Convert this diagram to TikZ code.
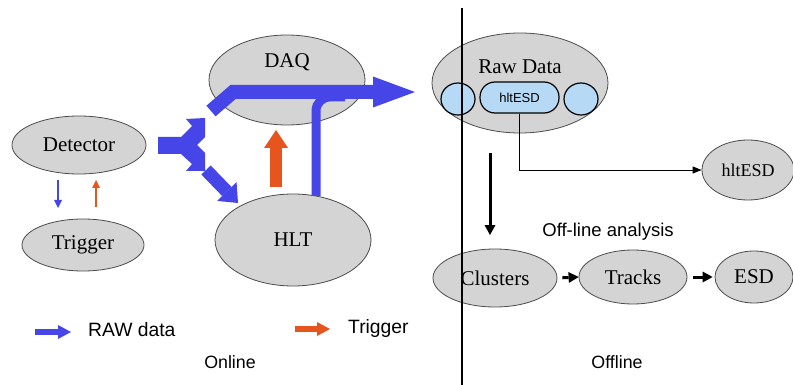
\documentclass[tikz,border=0pt]{standalone}
\usepackage{fontspec}
\setmainfont{Liberation Serif}
\setsansfont{Liberation Sans}
\usetikzlibrary{arrows.meta,shapes.geometric}
\definecolor{blu}{RGB}{70,70,232}
\definecolor{org}{RGB}{232,84,30}
\definecolor{ell}{RGB}{212,212,212}
\definecolor{lblue}{RGB}{182,218,246}
\begin{document}
\begin{tikzpicture}[x=1pt,y=-1pt,
  oval/.style={ellipse,draw=black!70,line width=0.8pt,fill=ell,inner sep=0pt,font=\fontsize{21}{21}\selectfont},
  sub/.style={ellipse,draw=black,line width=1.2pt,fill=lblue,inner sep=0pt},
  lbl/.style={inner sep=0pt,font=\fontsize{21}{21}\selectfont},
  sans/.style={inner sep=0pt,font=\sffamily\fontsize{18.5}{18.5}\selectfont},
  thinarrow/.style={draw=black,line width=0.9pt,-{Triangle[length=9pt,width=7pt]}},
  blackarrow/.style={draw=black,line width=3pt,-{Triangle[length=10pt,width=11pt,line width=0pt]}},
  bigblue/.style={draw=blu,line width=14pt,line join=miter},
]
\useasboundingbox (0,0) rectangle (793,385);
\fill[white] (0,0) rectangle (793,385);

% online ellipses
\node[oval,minimum width=134pt,minimum height=58pt] (det) at (79,145) {Detector};
\node[oval,minimum width=122pt,minimum height=52pt] (trg) at (83,245) {Trigger};
\node[oval,minimum width=156pt,minimum height=90pt] (daq) at (287,80) {};
\node[lbl] (daqt) at (287,62) {DAQ};
\node[oval,minimum width=156pt,minimum height=92pt] (hlt) at (293,240) {HLT};

% offline ellipses
\node[oval,minimum width=176pt,minimum height=100pt] (raw) at (520,83) {};
\node[lbl] (rawt) at (520,67) {Raw Data};
\node[sub,minimum width=34pt,minimum height=32pt] (cl) at (458,99) {};
\node[sub,minimum width=34pt,minimum height=32pt] (cr) at (581,99) {};
\node[draw=black,line width=1.2pt,fill=lblue,rectangle,rounded corners=15pt,
      minimum width=79pt,minimum height=31pt,inner sep=0pt,
      font=\sffamily\fontsize{13}{13}\selectfont] (hin) at (519.5,97.5) {hltESD};
\node[oval,minimum width=92pt,minimum height=60pt,font=\fontsize{18}{18}\selectfont] (hout) at (748,170) {hltESD};
\node[oval,minimum width=124pt,minimum height=58pt] (clu) at (495,278) {Clusters};
\node[oval,minimum width=108pt,minimum height=54pt] (tra) at (633,277) {Tracks};
\node[oval,minimum width=78pt,minimum height=52pt] (esd) at (754,277) {ESD};

% divider
\coordinate (vtop) at (462,8);
\coordinate (vbot) at (462,385);
\draw[line width=1.5pt] (vtop) -- (vbot);

% offline connectors
\draw[thinarrow] (hin.south) |- (hout.west);
\coordinate (dtop) at (490,153);
\coordinate (dbot) at (490,235);
\draw[blackarrow] (dtop) -- (dbot);
\draw[blackarrow,shorten <=5pt] (clu.east) -- (tra.west);
\draw[blackarrow,shorten <=6pt,shorten >=2pt] (tra.east) -- (esd.west);

% detector <-> trigger
\coordinate (b1) at (58,180);
\coordinate (b2) at (58,208);
\coordinate (o1) at (96,207);
\coordinate (o2) at (96,180);
\draw[blu,line width=2.5pt,-{Triangle[length=8pt,width=8pt,line width=0pt]}] (b1) -- (b2);
\draw[org,line width=2.5pt,-{Triangle[length=8pt,width=8pt,line width=0pt]}] (o1) -- (o2);

% big blue data flow
\fill[blu] (158,137) -- (181,137) -- (192,126) -- (186,119) -- (205,118) -- (205,137)
  -- (197,145) -- (205,153) -- (205,171) -- (186,171) -- (192,164) -- (181,154)
  -- (158,154) -- cycle;
\coordinate (h1) at (316,196);
\coordinate (h2) at (316,97);
\coordinate (h3) at (345,97);
\draw[blu,line width=9pt,rounded corners=14pt] (h1) -- (h2) -- (h3);
\coordinate (u1) at (211,111);
\coordinate (u2) at (233,92);
\coordinate (u3) at (415,92);
\draw[bigblue,-{Triangle[length=42pt,width=31pt,line width=0pt]}] (u1) -- (u2) -- (u3);
\coordinate (l1) at (206,170);
\coordinate (l2) at (238,203);
\draw[bigblue,line width=13pt,-{Triangle[length=16pt,width=27pt,line width=0pt]}] (l1) -- (l2);
\coordinate (t1) at (276,187);
\coordinate (t2) at (276,130);
\draw[org,line width=12pt,-{Triangle[length=18pt,width=24pt,line width=0pt]}] (t1) -- (t2);

% legend
\coordinate (lb1) at (35,332);
\coordinate (lb2) at (71,332);
\draw[blu,line width=6pt,-{Triangle[length=13pt,width=14pt,line width=0pt]}] (lb1) -- (lb2);
\node[sans,anchor=west,font=\sffamily\fontsize{19.3}{19.3}\selectfont] (rawlab) at (88,330) {RAW data};
\coordinate (lo1) at (295,329);
\coordinate (lo2) at (330,329);
\draw[org,line width=6pt,-{Triangle[length=13pt,width=14pt,line width=0pt]}] (lo1) -- (lo2);
\node[sans,anchor=west,font=\sffamily\fontsize{19.3}{19.3}\selectfont] (trglab) at (348,329) {Trigger};

\node[sans,font=\sffamily\fontsize{17.8}{17.8}\selectfont] (online) at (230,362) {Online};
\node[sans,font=\sffamily\fontsize{17.8}{17.8}\selectfont] (offline) at (617,362) {Offline};
\node[sans] (offana) at (608,232) {Off-line analysis};
\end{tikzpicture}
\end{document}
